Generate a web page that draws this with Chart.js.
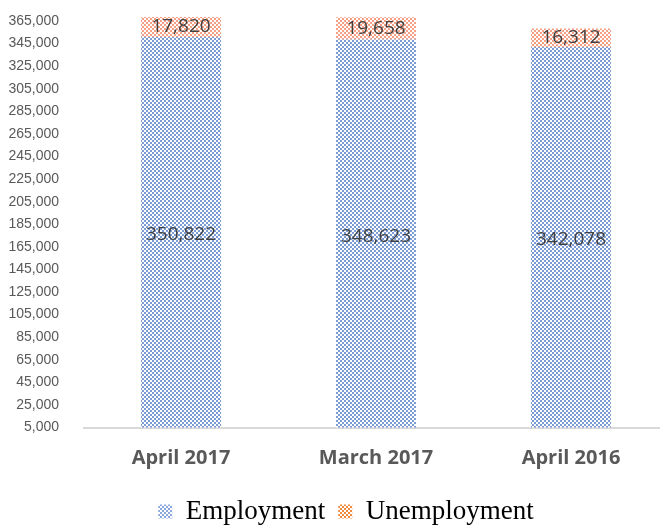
<!DOCTYPE html>
<html><head><meta charset="utf-8">
<script src="https://cdn.jsdelivr.net/npm/chart.js@4/dist/chart.umd.min.js"></script>
<style>
html,body{margin:0;padding:0;overflow:hidden;background:#fff;width:660px;height:525px}
#wrap{position:relative;width:692px;height:535px}
</style></head>
<body><div id="wrap"><canvas id="c" width="692" height="535"></canvas></div>
<script>
const categories = ['April 2017', 'March 2017', 'April 2016'];
const seriesNames = ['Employment', 'Unemployment'];
const employment = [350822, 348623, 342078];
const unemployment = [17820, 19658, 16312];
const yTickValues = [5000, 25000, 45000, 65000, 85000, 105000, 125000, 145000, 165000, 185000,
  205000, 225000, 245000, 265000, 285000, 305000, 325000, 345000, 365000];

function checker(color, cell) {
  const cv = document.createElement('canvas');
  cv.width = cell * 2; cv.height = cell * 2;
  const g = cv.getContext('2d');
  g.fillStyle = '#ffffff'; g.fillRect(0, 0, cell * 2, cell * 2);
  g.fillStyle = color;
  g.fillRect(0, 0, cell, cell);
  g.fillRect(cell, cell, cell, cell);
  return g.createPattern(cv, 'repeat');
}
const blueBar = checker('#7b9cd5', 2);
const orangeBar = checker('#f59f84', 2);
const blueLeg = checker('#8aa8dc', 2);
const orangeLeg = checker('#f08a3c', 2);

const valueLabels = {
  id: 'valueLabels',
  afterDatasetsDraw(chart) {
    const ctx = chart.ctx;
    ctx.save();
    ctx.font = '19px "Open Sans"';
    ctx.fillStyle = '#404040';
    ctx.textAlign = 'center';
    ctx.textBaseline = 'middle';
    chart.data.datasets.forEach((ds, di) => {
      const meta = chart.getDatasetMeta(di);
      meta.data.forEach((el, i) => {
        const y = (el.y + el.base) / 2;
        ctx.fillText(ds.data[i].toLocaleString('en-US'), el.x, y);
      });
    });
    ctx.restore();
  }
};

new Chart(document.getElementById('c'), {
  type: 'bar',
  data: {
    labels: categories,
    datasets: [
      { label: seriesNames[0], data: employment, backgroundColor: blueBar, borderWidth: 0 },
      { label: seriesNames[1], data: unemployment, backgroundColor: orangeBar, borderWidth: 0 }
    ]
  },
  options: {
    responsive: false,
    animation: false,
    layout: { padding: { top: 8.6, right: 0, left: 0, bottom: 0 } },
    datasets: { bar: { categoryPercentage: 1, barPercentage: 0.41 } },
    scales: {
      x: {
        stacked: true,
        grid: { display: false, drawTicks: false },
        border: { display: true, color: '#d9d9d9', width: 2 },
        ticks: { padding: 19, color: '#595959', font: { family: '"Open Sans"', size: 20, weight: 'bold' } },
        afterFit(scale) { scale.height = 57.5; }
      },
      y: {
        stacked: true,
        min: 5000,
        max: 376000,
        grid: { display: false, drawTicks: false },
        border: { display: false },
        afterBuildTicks(scale) { scale.ticks = yTickValues.map(v => ({ value: v })); },
        ticks: {
          padding: 24.5,
          color: '#595959',
          font: { family: '"Liberation Sans"', size: 14 },
          callback: v => v.toLocaleString('en-US')
        },
        afterFit(scale) { scale.width = 83.5; scale.paddingTop = 0; scale.paddingBottom = 0; }
      },
      yRight: {
        position: 'right',
        min: 5000,
        max: 376000,
        grid: { display: false, drawTicks: false },
        border: { display: false },
        ticks: { display: false },
        afterFit(scale) { scale.width = 23.5; scale.paddingTop = 0; scale.paddingBottom = 0; }
      }
    },
    plugins: {
      tooltip: { enabled: false },
      legend: {
        position: 'bottom',
        labels: {
          boxWidth: 14,
          boxHeight: 14,
          padding: 13,
          color: '#595959',
          font: { family: '"Liberation Serif"', size: 27 },
          generateLabels() {
            return [
              { text: seriesNames[0], fillStyle: blueLeg, strokeStyle: 'rgba(0,0,0,0)', lineWidth: 0, hidden: false, datasetIndex: 0 },
              { text: seriesNames[1], fillStyle: orangeLeg, strokeStyle: 'rgba(0,0,0,0)', lineWidth: 0, hidden: false, datasetIndex: 1 }
            ];
          }
        }
      }
    }
  },
  plugins: [valueLabels]
});
</script>
</body></html>
